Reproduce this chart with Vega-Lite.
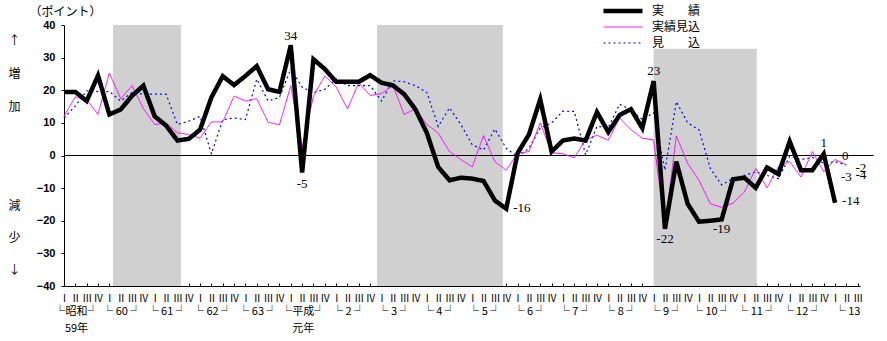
{
  "$schema": "https://vega.github.io/schema/vega-lite/v6.json",
  "width": 796,
  "height": 261,
  "autosize": "none",
  "padding": {"left": 64, "top": 25, "right": 27, "bottom": 55},
  "background": "white",
  "config": {
    "view": {"stroke": null},
    "font": "Noto Sans CJK JP",
    "axis": {"grid": false, "labelColor": "black", "domainColor": "black", "tickColor": "black", "titleColor": "black"},
    "axisY": {"values": [-40,-38,-36,-34,-32,-30,-28,-26,-24,-22,-20,-18,-16,-14,-12,-10,-8,-6,-4,-2,0,2,4,6,8,10,12,14,16,18,20,22,24,26,28,30,32,34,36,38,40],
      "labelExpr": "datum.value % 10 == 0 ? datum.label : ''", "tickSize": 3, "labelPadding": 6,
      "labelFont": "Liberation Sans", "labelFontWeight": "bold", "labelFontSize": 11, "labelOverlap": false, "labelFlush": false,
      "titleAngle": 0, "titleX": 1, "titleY": -14, "titleAlign": "center", "titleBaseline": "middle",
      "titleFont": "Noto Sans CJK JP", "titleFontSize": 12, "titleFontWeight": "normal"}
  },
  "datasets": {
    "ts": [
      {"q":0,"s":"見　　込","v":11.5},{"q":1,"s":"見　　込","v":15.2},{"q":2,"s":"見　　込","v":19.8},{"q":3,"s":"見　　込","v":19.6},{"q":4,"s":"見　　込","v":19.6},{"q":5,"s":"見　　込","v":16.7},{"q":6,"s":"見　　込","v":19.3},{"q":7,"s":"見　　込","v":18.8},{"q":8,"s":"見　　込","v":18.8},{"q":9,"s":"見　　込","v":18.8},
      {"q":10,"s":"見　　込","v":9.5},{"q":11,"s":"見　　込","v":10.5},{"q":12,"s":"見　　込","v":12},{"q":13,"s":"見　　込","v":0.5},{"q":14,"s":"見　　込","v":11},{"q":15,"s":"見　　込","v":11.5},{"q":16,"s":"見　　込","v":11},{"q":17,"s":"見　　込","v":23.4},{"q":18,"s":"見　　込","v":16.7},{"q":19,"s":"見　　込","v":17.8},
      {"q":20,"s":"見　　込","v":26.5},{"q":21,"s":"見　　込","v":21},{"q":22,"s":"見　　込","v":19.2},{"q":23,"s":"見　　込","v":20.3},{"q":24,"s":"見　　込","v":23.5},{"q":25,"s":"見　　込","v":21.4},{"q":26,"s":"見　　込","v":21.4},{"q":27,"s":"見　　込","v":21.4},{"q":28,"s":"見　　込","v":16.7},{"q":29,"s":"見　　込","v":22.9},
      {"q":30,"s":"見　　込","v":22.6},{"q":31,"s":"見　　込","v":21.4},{"q":32,"s":"見　　込","v":19.3},{"q":33,"s":"見　　込","v":8.9},{"q":34,"s":"見　　込","v":14.6},{"q":35,"s":"見　　込","v":9.5},{"q":36,"s":"見　　込","v":3.3},{"q":37,"s":"見　　込","v":1.7},{"q":38,"s":"見　　込","v":8.1},{"q":39,"s":"見　　込","v":2.2},
      {"q":40,"s":"見　　込","v":-0.4},{"q":41,"s":"見　　込","v":2.2},{"q":42,"s":"見　　込","v":8.4},{"q":43,"s":"見　　込","v":10},{"q":44,"s":"見　　込","v":13.6},{"q":45,"s":"見　　込","v":13.5},{"q":46,"s":"見　　込","v":0.2},{"q":47,"s":"見　　込","v":8.9},{"q":48,"s":"見　　込","v":8.6},{"q":49,"s":"見　　込","v":15.7},
      {"q":50,"s":"見　　込","v":14},{"q":51,"s":"見　　込","v":11},{"q":52,"s":"見　　込","v":13.1},{"q":53,"s":"見　　込","v":-4.5},{"q":54,"s":"見　　込","v":16.5},{"q":55,"s":"見　　込","v":10},{"q":56,"s":"見　　込","v":7.9},{"q":57,"s":"見　　込","v":-4},{"q":58,"s":"見　　込","v":-9},{"q":59,"s":"見　　込","v":-7},
      {"q":60,"s":"見　　込","v":-6.1},{"q":61,"s":"見　　込","v":-5},{"q":62,"s":"見　　込","v":-6.1},{"q":63,"s":"見　　込","v":-7.1},{"q":64,"s":"見　　込","v":-0.2},{"q":65,"s":"見　　込","v":-1.2},{"q":66,"s":"見　　込","v":-0.6},{"q":67,"s":"見　　込","v":-2.4},{"q":68,"s":"見　　込","v":-1.9},{"q":69,"s":"見　　込","v":-2.9},

      {"q":0,"s":"実績見込","v":12},{"q":1,"s":"実績見込","v":18},{"q":2,"s":"実績見込","v":17.2},{"q":3,"s":"実績見込","v":12.6},{"q":4,"s":"実績見込","v":25.3},{"q":5,"s":"実績見込","v":17.4},{"q":6,"s":"実績見込","v":21.4},{"q":7,"s":"実績見込","v":14.4},{"q":8,"s":"実績見込","v":9.5},{"q":9,"s":"実績見込","v":9.9},
      {"q":10,"s":"実績見込","v":7},{"q":11,"s":"実績見込","v":6.4},{"q":12,"s":"実績見込","v":5.3},{"q":13,"s":"実績見込","v":10.3},{"q":14,"s":"実績見込","v":10.3},{"q":15,"s":"実績見込","v":18.2},{"q":16,"s":"実績見込","v":16.7},{"q":17,"s":"実績見込","v":17.4},{"q":18,"s":"実績見込","v":10.2},{"q":19,"s":"実績見込","v":9.4},
      {"q":20,"s":"実績見込","v":21.4},{"q":21,"s":"実績見込","v":2.5},{"q":22,"s":"実績見込","v":18.2},{"q":23,"s":"実績見込","v":24.4},{"q":24,"s":"実績見込","v":21},{"q":25,"s":"実績見込","v":14.3},{"q":26,"s":"実績見込","v":22.3},{"q":27,"s":"実績見込","v":18.4},{"q":28,"s":"実績見込","v":19},{"q":29,"s":"実績見込","v":21.5},
      {"q":30,"s":"実績見込","v":12.6},{"q":31,"s":"実績見込","v":14.3},{"q":32,"s":"実績見込","v":9.5},{"q":33,"s":"実績見込","v":6.9},{"q":34,"s":"実績見込","v":1.2},{"q":35,"s":"実績見込","v":-1.2},{"q":36,"s":"実績見込","v":-3.5},{"q":37,"s":"実績見込","v":6.1},{"q":38,"s":"実績見込","v":-1.9},{"q":39,"s":"実績見込","v":-4.5},
      {"q":40,"s":"実績見込","v":0.7},{"q":41,"s":"実績見込","v":1.2},{"q":42,"s":"実績見込","v":10},{"q":43,"s":"実績見込","v":0.9},{"q":44,"s":"実績見込","v":0.5},{"q":45,"s":"実績見込","v":-0.7},{"q":46,"s":"実績見込","v":4.8},{"q":47,"s":"実績見込","v":6.2},{"q":48,"s":"実績見込","v":4.7},{"q":49,"s":"実績見込","v":11.5},
      {"q":50,"s":"実績見込","v":7.9},{"q":51,"s":"実績見込","v":5.3},{"q":52,"s":"実績見込","v":4.8},{"q":53,"s":"実績見込","v":-22},{"q":54,"s":"実績見込","v":6},{"q":55,"s":"実績見込","v":-2.4},{"q":56,"s":"実績見込","v":-7.6},{"q":57,"s":"実績見込","v":-14.8},{"q":58,"s":"実績見込","v":-15.9},{"q":59,"s":"実績見込","v":-14.6},
      {"q":60,"s":"実績見込","v":-11.2},{"q":61,"s":"実績見込","v":-4},{"q":62,"s":"実績見込","v":-9.9},{"q":63,"s":"実績見込","v":-3.5},{"q":64,"s":"実績見込","v":-1.9},{"q":65,"s":"実績見込","v":-6.6},{"q":66,"s":"実績見込","v":1.2},{"q":67,"s":"実績見込","v":-5},{"q":68,"s":"実績見込","v":-1.2},{"q":69,"s":"実績見込","v":-2.9},

      {"q":0,"s":"実　　績","v":19.5},{"q":1,"s":"実　　績","v":19.5},{"q":2,"s":"実　　績","v":16.7},{"q":3,"s":"実　　績","v":24.5},{"q":4,"s":"実　　績","v":12.6},{"q":5,"s":"実　　績","v":14.1},{"q":6,"s":"実　　績","v":18.3},{"q":7,"s":"実　　績","v":21.4},{"q":8,"s":"実　　績","v":12},{"q":9,"s":"実　　績","v":9.2},
      {"q":10,"s":"実　　績","v":4.6},{"q":11,"s":"実　　績","v":5.1},{"q":12,"s":"実　　績","v":7.9},{"q":13,"s":"実　　績","v":17.8},{"q":14,"s":"実　　績","v":24.3},{"q":15,"s":"実　　績","v":21.6},{"q":16,"s":"実　　績","v":24.4},{"q":17,"s":"実　　績","v":27.4},{"q":18,"s":"実　　績","v":20.3},{"q":19,"s":"実　　績","v":19.5},
      {"q":20,"s":"実　　績","v":33.8},{"q":21,"s":"実　　績","v":-5.2},{"q":22,"s":"実　　績","v":29.5},{"q":23,"s":"実　　績","v":26.5},{"q":24,"s":"実　　績","v":22.6},{"q":25,"s":"実　　績","v":22.6},{"q":26,"s":"実　　績","v":22.6},{"q":27,"s":"実　　績","v":24.6},{"q":28,"s":"実　　績","v":22.3},{"q":29,"s":"実　　績","v":21.5},
      {"q":30,"s":"実　　績","v":18.8},{"q":31,"s":"実　　績","v":14.1},{"q":32,"s":"実　　績","v":6.9},{"q":33,"s":"実　　績","v":-3.5},{"q":34,"s":"実　　績","v":-7.6},{"q":35,"s":"実　　績","v":-6.8},{"q":36,"s":"実　　績","v":-7.1},{"q":37,"s":"実　　績","v":-7.8},{"q":38,"s":"実　　績","v":-13.8},{"q":39,"s":"実　　績","v":-16.3},
      {"q":40,"s":"実　　績","v":0.7},{"q":41,"s":"実　　績","v":6.4},{"q":42,"s":"実　　績","v":17.2},{"q":43,"s":"実　　績","v":1.2},{"q":44,"s":"実　　績","v":4.6},{"q":45,"s":"実　　績","v":5.2},{"q":46,"s":"実　　績","v":4.6},{"q":47,"s":"実　　績","v":13.3},{"q":48,"s":"実　　績","v":7.2},{"q":49,"s":"実　　績","v":12.4},
      {"q":50,"s":"実　　績","v":14.2},{"q":51,"s":"実　　績","v":8.4},{"q":52,"s":"実　　績","v":22.8},{"q":53,"s":"実　　績","v":-22.5},{"q":54,"s":"実　　績","v":-1.9},{"q":55,"s":"実　　績","v":-14.8},{"q":56,"s":"実　　績","v":-20.3},{"q":57,"s":"実　　績","v":-20},{"q":58,"s":"実　　績","v":-19.6},{"q":59,"s":"実　　績","v":-7.3},
      {"q":60,"s":"実　　績","v":-6.8},{"q":61,"s":"実　　績","v":-9.9},{"q":62,"s":"実　　績","v":-3.7},{"q":63,"s":"実　　績","v":-5.7},{"q":64,"s":"実　　績","v":4.3},{"q":65,"s":"実　　績","v":-4.5},{"q":66,"s":"実　　績","v":-4.5},{"q":67,"s":"実　　績","v":0.5},{"q":68,"s":"実　　績","v":-14.5}
    ]
  },
  "layer": [
    {
      "data": {"values": [{"start": 4.32, "end": 10.31, "top": 40}, {"start": 27.6, "end": 38.7, "top": 40}, {"start": 52.0, "end": 61.1, "top": 32.7}]},
      "mark": {"type": "rect", "fill": "#d0d0d0"},
      "encoding": {
        "x": {"field": "start", "type": "quantitative", "scale": {"domain": [0, 70.2], "nice": false, "zero": false},
          "axis": {"orient": "bottom", "values": [1.5,5.5,9.5,13.5,17.5,21.5,25.5,29.5,33.5,37.5,41.5,45.5,49.5,53.5,57.5,61.5,65.5,69.5],
            "labelExpr": "datum.value < 4 ? ['└昭和┘', '59年'] : datum.value < 20 ? '└    ' + (59 + floor(datum.value / 4)) + '    ┘' : datum.value < 24 ? ['└平成┘', '元年'] : datum.value > 68 ? '└    13' : '└     ' + (floor(datum.value / 4) - 4) + '     ┘'",
            "ticks": false, "domain": false, "labelPadding": 19, "labelBaseline": "top", "labelLineHeight": 17, "labelOffset": -5,
            "labelFont": "Noto Sans CJK JP", "labelFontSize": 11, "labelOverlap": false, "labelFlush": false,
            "title": ["↑", "増", "加"], "titleAngle": 0, "titleX": -50, "titleY": -251, "titleAlign": "center", "titleBaseline": "top",
            "titleLineHeight": 33, "titleFont": "Noto Sans CJK JP", "titleFontSize": 12, "titleFontWeight": "normal"}},
        "x2": {"field": "end"},
        "y": {"field": "top", "type": "quantitative", "scale": {"domain": [-40, 40], "nice": false}, "title": "（ポイント）"},
        "y2": {"datum": -40}
      }
    },
    {
      "data": {"values": [{"z": 0}]},
      "mark": {"type": "rule", "color": "black", "strokeWidth": 1},
      "encoding": {
        "x": {"datum": 0, "type": "quantitative", "scale": {"domain": [0, 70.2], "nice": false, "zero": false}, "axis": null},
        "x2": {"datum": 71.4},
        "y": {"field": "z", "type": "quantitative", "scale": {"domain": [-40, 40], "nice": false}, "title": "（ポイント）"}
      }
    },
    {
      "data": {"name": "ts"},
      "mark": {"type": "line", "strokeJoin": "miter"},
      "encoding": {
        "x": {"field": "q", "type": "quantitative", "scale": {"domain": [0, 70.2], "nice": false, "zero": false},
          "axis": {"orient": "bottom", "values": [0,1,2,3,4,5,6,7,8,9,10,11,12,13,14,15,16,17,18,19,20,21,22,23,24,25,26,27,28,29,30,31,32,33,34,35,36,37,38,39,40,41,42,43,44,45,46,47,48,49,50,51,52,53,54,55,56,57,58,59,60,61,62,63,64,65,66,67,68,69,70],
            "labelExpr": "['Ⅰ','Ⅱ','Ⅲ','Ⅳ'][datum.value % 4]", "tickSize": -3, "labelPadding": 10, "labelFont": "Noto Sans CJK JP", "labelFontSize": 10,
            "labelOverlap": false, "labelFlush": false,
            "title": ["減", "少", "↓"], "titleAngle": 0, "titleX": -50, "titleY": -86, "titleAlign": "center", "titleBaseline": "top",
            "titleLineHeight": 32, "titleFont": "Noto Sans CJK JP", "titleFontSize": 12, "titleFontWeight": "normal"}},
        "y": {"field": "v", "type": "quantitative", "scale": {"domain": [-40, 40], "nice": false}, "title": "（ポイント）"},
        "color": {"field": "s", "type": "nominal", "scale": {"domain": ["実　　績", "実績見込", "見　　込"], "range": ["black", "#ff00ff", "#0000ff"]},
          "legend": {"orient": "none", "legendX": 537, "legendY": -22, "title": null, "symbolType": "stroke", "symbolSize": 1521, "clipHeight": 16, "labelFont": "Noto Sans CJK JP", "labelFontSize": 12, "labelColor": "black", "labelOffset": 7, "rowPadding": 0}},
        "strokeWidth": {"field": "s", "type": "nominal", "scale": {"type": "ordinal", "domain": ["実　　績", "実績見込", "見　　込"], "range": [4.5, 1, 1.2]},
          "legend": {"orient": "none", "legendX": 537, "legendY": -22, "title": null, "symbolType": "stroke", "symbolSize": 1521, "clipHeight": 16, "labelFont": "Noto Sans CJK JP", "labelFontSize": 12, "labelColor": "black", "labelOffset": 7, "rowPadding": 0}},
        "strokeDash": {"field": "s", "type": "nominal", "scale": {"domain": ["実　　績", "実績見込", "見　　込"], "range": [[1, 0], [1, 0], [2, 3]]},
          "legend": {"orient": "none", "legendX": 537, "legendY": -22, "title": null, "symbolType": "stroke", "symbolSize": 1521, "clipHeight": 16, "labelFont": "Noto Sans CJK JP", "labelFontSize": 12, "labelColor": "black", "labelOffset": 7, "rowPadding": 0}}
      }
    },
    {
      "data": {"values": [{"t": "34", "q": 20, "v": 34}, {"t": "23", "q": 52, "v": 23}, {"t": "1", "q": 67, "v": 1}]},
      "mark": {"type": "text", "font": "Liberation Serif", "fontSize": 13, "dy": -9, "baseline": "middle", "align": "center", "color": "black"},
      "encoding": {
        "x": {"field": "q", "type": "quantitative", "scale": {"domain": [0, 70.2], "nice": false, "zero": false}, "axis": null},
        "y": {"field": "v", "type": "quantitative", "scale": {"domain": [-40, 40], "nice": false}, "title": "（ポイント）"},
        "text": {"field": "t"}
      }
    },
    {
      "data": {"values": [{"t": "-5", "q": 21, "v": -5}, {"t": "-22", "q": 53, "v": -22}, {"t": "-19", "q": 58, "v": -19}, {"t": "-3", "q": 69, "v": -3}]},
      "mark": {"type": "text", "font": "Liberation Serif", "fontSize": 13, "dy": 12, "baseline": "middle", "align": "center", "color": "black"},
      "encoding": {
        "x": {"field": "q", "type": "quantitative", "scale": {"domain": [0, 70.2], "nice": false, "zero": false}, "axis": null},
        "y": {"field": "v", "type": "quantitative", "scale": {"domain": [-40, 40], "nice": false}, "title": "（ポイント）"},
        "text": {"field": "t"}
      }
    },
    {
      "data": {"values": [{"t": "-16", "q": 39, "v": -16}, {"t": "-14", "q": 68, "v": -14}, {"t": "0", "q": 68, "v": 0}]},
      "mark": {"type": "text", "font": "Liberation Serif", "fontSize": 13, "dx": 7, "baseline": "middle", "align": "left", "color": "black"},
      "encoding": {
        "x": {"field": "q", "type": "quantitative", "scale": {"domain": [0, 70.2], "nice": false, "zero": false}, "axis": null},
        "y": {"field": "v", "type": "quantitative", "scale": {"domain": [-40, 40], "nice": false}, "title": "（ポイント）"},
        "text": {"field": "t"}
      }
    },
    {
      "data": {"values": [{"t": "-2", "q": 69, "v": -2}, {"t": "-4", "q": 69, "v": -4}]},
      "mark": {"type": "text", "font": "Liberation Serif", "fontSize": 13, "dx": 9, "dy": 6, "baseline": "middle", "align": "left", "color": "black"},
      "encoding": {
        "x": {"field": "q", "type": "quantitative", "scale": {"domain": [0, 70.2], "nice": false, "zero": false}, "axis": null},
        "y": {"field": "v", "type": "quantitative", "scale": {"domain": [-40, 40], "nice": false}, "title": "（ポイント）"},
        "text": {"field": "t"}
      }
    }
  ],
  "resolve": {"axis": {"x": "independent"}}
}
